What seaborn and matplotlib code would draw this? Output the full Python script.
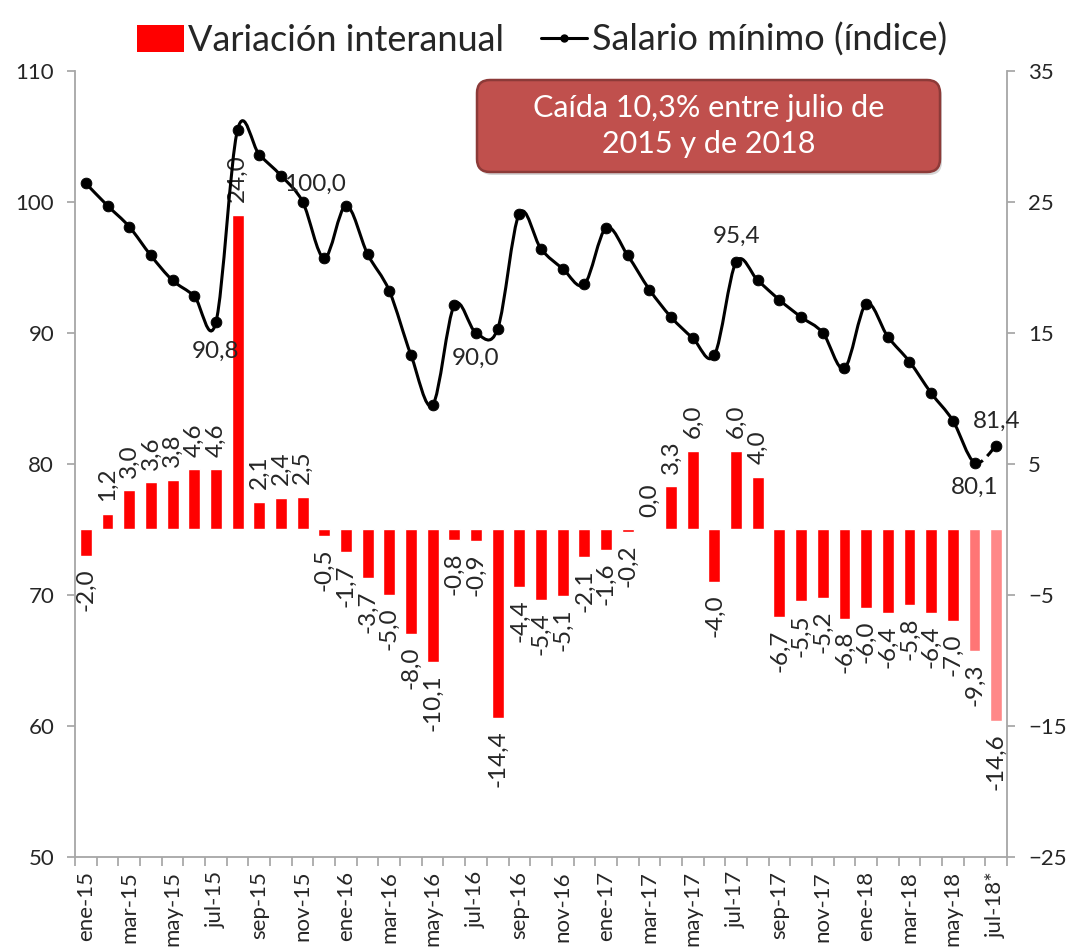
import numpy as np
import pandas as pd
import matplotlib.pyplot as plt
import seaborn as sns
from matplotlib.path import Path
from matplotlib.patches import PathPatch, Patch, FancyBboxPatch
from matplotlib.lines import Line2D

sns.set_theme(style="white")
plt.rcParams['font.family'] = ['Lato', 'DejaVu Sans']

meses = ['ene-15', 'feb-15', 'mar-15', 'abr-15', 'may-15', 'jun-15', 'jul-15', 'ago-15',
         'sep-15', 'oct-15', 'nov-15', 'dic-15',
         'ene-16', 'feb-16', 'mar-16', 'abr-16', 'may-16', 'jun-16', 'jul-16', 'ago-16',
         'sep-16', 'oct-16', 'nov-16', 'dic-16',
         'ene-17', 'feb-17', 'mar-17', 'abr-17', 'may-17', 'jun-17', 'jul-17', 'ago-17',
         'sep-17', 'oct-17', 'nov-17', 'dic-17',
         'ene-18', 'feb-18', 'mar-18', 'abr-18', 'may-18', 'jun-18', 'jul-18*']

variacion = [-2.0, 1.2, 3.0, 3.6, 3.8, 4.6, 4.6, 24.0, 2.1, 2.4, 2.5, -0.5,
             -1.7, -3.7, -5.0, -8.0, -10.1, -0.8, -0.9, -14.4, -4.4, -5.4, -5.1, -2.1,
             -1.6, -0.2, 0.0, 3.3, 6.0, -4.0, 6.0, 4.0, -6.7, -5.5, -5.2, -6.8,
             -6.0, -6.4, -5.8, -6.4, -7.0, -9.3, -14.6]

salario = [101.4, 99.7, 98.1, 95.9, 94.0, 92.8, 90.8, 105.5, 103.6, 102.0, 100.0, 95.7,
           99.7, 96.0, 93.2, 88.3, 84.5, 92.1, 90.0, 90.3, 99.1, 96.4, 94.9, 93.7,
           98.0, 95.9, 93.3, 91.2, 89.6, 88.3, 95.4, 94.0, 92.5, 91.2, 90.0, 87.3,
           92.2, 89.7, 87.8, 85.4, 83.3, 80.1, 81.4]

# meses con etiqueta de valor en la línea: (índice, desplazamiento en puntos)
etiquetas_linea = [(6, (0, -13)), (10, (9, 5)), (18, (0, -11)), (30, (0, 11)),
                   (41, (0, -10)), (42, (0, 10))]

colores = ['#FF0000'] * (len(meses) - 2) + ['#FF7575', '#FF8888']

df = pd.DataFrame({'mes': meses, 'variacion': variacion, 'salario': salario})
df['pos'] = np.arange(len(df))

fig = plt.figure(figsize=(10.67, 9.49), dpi=100)
ax = fig.add_axes([0.0703, 0.0969, 0.8735, 0.8286])
ax_r = ax.twinx()

# barras en el eje derecho
sns.barplot(data=df, x='mes', y='variacion', hue='mes', palette=colores, legend=False,
            width=0.55, saturation=1, ax=ax_r, order=meses, hue_order=meses)
ax_r.set_ylim(-25, 35)
ax_r.set_yticks(range(-25, 36, 10))
ax_r.set_ylabel('')

for i, v in enumerate(variacion):
    txt = f"{v:.1f}".replace('.', ',')
    if v >= 0:
        ax_r.annotate(txt, xy=(i, v), xytext=(0, 9), textcoords='offset points',
                      rotation=90, ha='center', va='bottom', fontsize=17.5)
    else:
        ax_r.annotate(txt, xy=(i, v), xytext=(0, -9), textcoords='offset points',
                      rotation=90, ha='center', va='top', fontsize=17.5)

# línea suavizada (estilo Excel) en el eje izquierdo
xs = df['pos'].to_numpy(dtype=float)
ys = df['salario'].to_numpy(dtype=float)
n = len(xs)
segs = []
for i in range(n - 1):
    a = i - 1 if i > 0 else i
    b = i + 2 if i + 2 < n else i + 1
    c1 = (xs[i] + (xs[i + 1] - xs[a]) / 6, ys[i] + (ys[i + 1] - ys[a]) / 6)
    c2 = (xs[i + 1] - (xs[b] - xs[i]) / 6, ys[i + 1] - (ys[b] - ys[i]) / 6)
    segs.append((c1, c2, (xs[i + 1], ys[i + 1])))

verts = [(xs[0], ys[0])]
codes = [Path.MOVETO]
for s in segs[:-1]:
    verts += list(s)
    codes += [Path.CURVE4] * 3
ax.add_patch(PathPatch(Path(verts, codes), fill=False, edgecolor='black', lw=2.2,
                       capstyle='round', joinstyle='round'))
last = [(xs[-2], ys[-2])] + list(segs[-1])
ax.add_patch(PathPatch(Path(last, [Path.MOVETO] + [Path.CURVE4] * 3), fill=False,
                       edgecolor='black', lw=2.2, linestyle=(0, (3, 2))))

sns.scatterplot(data=df, x='pos', y='salario', color='black', s=60, edgecolor='black',
                ax=ax, zorder=5, legend=False)

for i, (dx, dy) in etiquetas_linea:
    txt = f"{salario[i]:.1f}".replace('.', ',')
    ax.annotate(txt, xy=(i, salario[i]), xytext=(dx, dy), textcoords='offset points',
                ha='center', va='bottom' if dy > 0 else 'top', fontsize=17.5)

ax.set_ylim(50, 110)
ax.set_yticks(range(50, 111, 10))
ax.set_ylabel('')
ax.set_xlabel('')
ax_r.set_xlabel('')

# orden de capas: la línea sobre las barras
ax.set_zorder(2)
ax_r.set_zorder(1)
ax.patch.set_visible(False)

# eje x: marcas entre categorías, etiquetas cada dos meses
ax.set_xticks(np.arange(-0.5, len(meses), 1))
ax.set_xticklabels([])
ax.set_xticks(np.arange(0, len(meses), 2), minor=True)
ax.set_xticklabels(meses[::2], minor=True, rotation=90, fontsize=16)
ax.set_xlim(-0.5, len(meses) - 0.5)

gris = '#A6A6A6'
for a in (ax, ax_r):
    for sp in a.spines.values():
        sp.set_visible(False)
ax.spines['left'].set_visible(True)
ax.spines['bottom'].set_visible(True)
ax_r.spines['right'].set_visible(True)
for sp in (ax.spines['left'], ax.spines['bottom'], ax_r.spines['right']):
    sp.set_color(gris)
    sp.set_linewidth(1.3)

ax.tick_params(axis='x', which='major', direction='out', length=6.5, color=gris, bottom=True)
ax.tick_params(axis='x', which='minor', length=0, pad=10, bottom=True, labelsize=16)
ax.tick_params(axis='y', direction='out', length=6, color=gris, pad=9, labelsize=16, left=True)
ax_r.tick_params(axis='y', direction='out', length=6, color=gris, pad=9, labelsize=16, right=True)
ax.grid(False)
ax_r.grid(False)

# recuadro de texto
sombra = FancyBboxPatch((4.79, 7.74), 4.63, 0.92, boxstyle='round,pad=0,rounding_size=0.13',
                        transform=fig.dpi_scale_trans, fc='#BBBBBB', ec='none', alpha=0.6)
caja = FancyBboxPatch((4.77, 7.77), 4.63, 0.92, boxstyle='round,pad=0,rounding_size=0.13',
                      transform=fig.dpi_scale_trans, fc='#C0504D', ec='#8C3A38', lw=1.8)
fig.patches.extend([sombra, caja])
fig.text(7.085 / 10.67, 8.23 / 9.49, 'Caída 10,3% entre julio de\n2015 y de 2018',
         color='white', fontsize=22, ha='center', va='center', linespacing=1.35)

# leyenda
handles = [Patch(facecolor='#FF0000', edgecolor='none'),
           Line2D([0], [0], color='black', lw=2.2, marker='o', markersize=5)]
fig.legend(handles, ['Variación interanual', 'Salario mínimo (índice)'],
           loc='upper center', bbox_to_anchor=(0.508, 1.01), ncol=2, frameon=False,
           fontsize=26, handlelength=1.3, handleheight=0.75, handletextpad=0.12,
           columnspacing=1.0)

fig.savefig('out.png', dpi=100)
